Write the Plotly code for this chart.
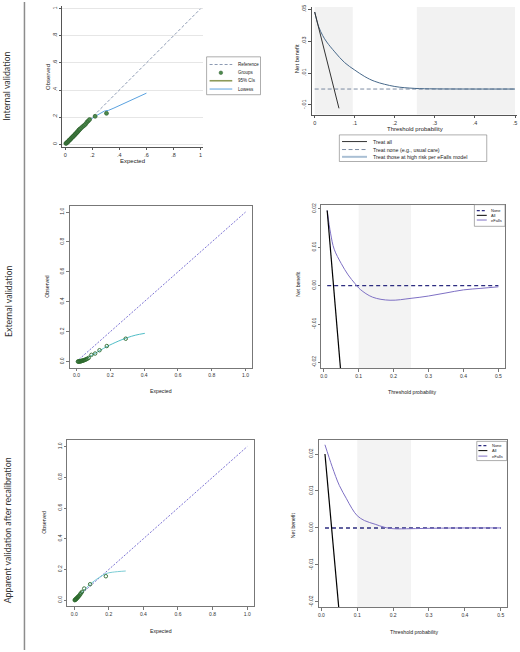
import plotly.graph_objects as go

W, H = 520, 652
def X(p): return p / W
def Y(p): return 1 - p / H

# ---------------- DATA ----------------
# Row 1: internal validation (Stata)
int_exp = [0.005,0.01,0.015,0.02,0.025,0.03,0.035,0.04,0.045,0.05,0.055,0.06,0.065,0.07,0.075,
           0.08,0.085,0.09,0.095,0.10,0.105,0.11,0.12,0.13,0.14,0.15,0.16,0.17,0.18,0.221,0.305]
int_obs = [0.006,0.009,0.014,0.018,0.024,0.029,0.034,0.038,0.044,0.049,0.055,0.058,0.064,0.069,0.075,
           0.079,0.086,0.09,0.096,0.103,0.108,0.113,0.122,0.131,0.139,0.148,0.162,0.172,0.182,0.206,0.228]
int_lowess_x = [0.005,0.05,0.1,0.15,0.2,0.221,0.29,0.32,0.36,0.6]
int_lowess_y = [0.006,0.05,0.1,0.148,0.19,0.206,0.245,0.25,0.267,0.377]
ref_line = [0, 1]

int_thr = [0,0.01,0.02,0.03,0.05,0.075,0.1,0.125,0.15,0.2,0.25,0.3,0.4,0.5]
int_nb_model = [0.0483,0.039,0.0335,0.0295,0.0233,0.0165,0.0119,0.0078,0.0048,0.0016,0.0004,0.0001,0.0,0.0]
int_all_x = [0, 0.0606]
int_all_y = [0.0483, -0.0121]
int_none_x = [0, 0.5]
int_none_y = [0, 0]
int_shade = [(0.0, 0.095), (0.255, 0.5)]

# Row 2: external validation (R)
ext_exp = [0.008,0.011,0.014,0.017,0.02,0.023,0.026,0.029,0.032,0.035,0.039,0.043,0.048,0.053,
           0.058,0.064,0.072,0.088,0.11,0.136,0.179,0.291]
ext_obs = [0.0,0.001,0.0,0.002,0.001,0.003,0.002,0.004,0.005,0.006,0.007,0.009,0.011,0.013,
           0.016,0.019,0.025,0.045,0.054,0.076,0.104,0.153]
ext_lowess_x = [0.01,0.03,0.05,0.08,0.1,0.14,0.18,0.25,0.3,0.35,0.404]
ext_lowess_y = [0.0,0.006,0.016,0.035,0.048,0.075,0.101,0.138,0.16,0.177,0.189]

ext_thr = [0.01,0.02,0.03,0.05,0.07,0.09,0.105,0.14,0.19,0.25,0.3,0.35,0.4,0.45,0.5]
ext_nb_model = [0.0196,0.0135,0.0095,0.0058,0.0028,0.0005,-0.001,-0.003,-0.0038,-0.0033,-0.0027,
                -0.0019,-0.0011,-0.0007,-0.0003]
ext_all_x = [0.01, 0.06]
ext_all_y = [0.0196, -0.0345]
ext_none_x = [0.01, 0.5]
ext_none_y = [0, 0]
ext_shade = [(0.1, 0.25)]

# Row 3: apparent validation after recalibration (R)
rec_exp = [0.003,0.005,0.007,0.009,0.011,0.013,0.015,0.018,0.02,0.023,0.026,0.03,0.035,0.038,
           0.045,0.058,0.092,0.183]
rec_obs = [0.0,0.002,0.004,0.006,0.008,0.01,0.013,0.016,0.019,0.022,0.026,0.031,0.038,0.045,
           0.054,0.076,0.104,0.156]
rec_lowess_x = [0.0,0.02,0.05,0.096,0.15,0.183,0.22,0.298]
rec_lowess_y = [0.0,0.021,0.058,0.108,0.152,0.173,0.182,0.19]

rec_thr = [0.01,0.03,0.05,0.07,0.085,0.1,0.12,0.15,0.175,0.2,0.25,0.3,0.4,0.5]
rec_nb_model = [0.0225,0.0166,0.0115,0.0079,0.0053,0.0033,0.002,0.001,0.0002,-0.0002,-0.0002,
                -0.0001,0.0,0.0]
rec_all_x = [0.01, 0.06]
rec_all_y = [0.0200, -0.0340]
rec_none_x = [0.01, 0.5]
rec_none_y = [0, 0]
rec_shade = [(0.1, 0.25)]

row_labels = ["Internal validation", "External validation", "Apparent validation after recalibration"]

# ---------------- STYLE ----------------
FONT = "Liberation Sans"
REF_C = "#6f80a0"
GRP_C = "#4c8a4c"
CI_C = "#8c9a5a"
LOW_C = "#5aa2e0"
S_ALL = "#333333"
S_NONE = "#5c6f8c"
S_MODEL = "#48698a"
S_MODEL_KEY = "#a9bfd4"
R_DIAG = "#5a4fc8"
R_PT = "#2e6b2e"
R_LOW = "#3cb6bf"
R_LOW2 = "#6cc6cf"
R_NONE = "#2c2c80"
R_MODEL = "#7e70c4"
D_STATA = "3px,2px"
D_RDOT = "2px,1.5px"
D_RNONE = "4px,3px"

fig = go.Figure()

def add(tr, n):
    tr.update(xaxis="x" if n == 1 else f"x{n}", yaxis="y" if n == 1 else f"y{n}", showlegend=False,
              hoverinfo="skip")
    fig.add_trace(tr)

# Panel 1
add(go.Scatter(x=ref_line, y=ref_line, mode="lines", line=dict(color=REF_C, width=0.8, dash=D_STATA)), 1)
add(go.Scatter(x=int_lowess_x, y=int_lowess_y, mode="lines", line=dict(color=LOW_C, width=1)), 1)
add(go.Scatter(x=int_exp, y=int_obs, mode="markers",
               marker=dict(color=GRP_C, size=4, line=dict(color="#2a5a2a", width=0.6))), 1)
# Panel 2
add(go.Scatter(x=int_none_x, y=int_none_y, mode="lines", line=dict(color=S_NONE, width=0.8, dash="4px,2.5px")), 2)
add(go.Scatter(x=int_thr, y=int_nb_model, mode="lines", line=dict(color=S_MODEL, width=1, shape="spline")), 2)
add(go.Scatter(x=int_all_x, y=int_all_y, mode="lines", line=dict(color=S_ALL, width=1)), 2)
# Panel 3
add(go.Scatter(x=ref_line, y=ref_line, mode="lines", line=dict(color=R_DIAG, width=0.8, dash=D_RDOT)), 3)
add(go.Scatter(x=ext_lowess_x, y=ext_lowess_y, mode="lines", line=dict(color=R_LOW, width=0.9, shape="spline")), 3)
add(go.Scatter(x=ext_exp, y=ext_obs, mode="markers",
               marker=dict(symbol="circle-open", color=R_PT, size=3.5, line=dict(width=0.9))), 3)
# Panel 4
add(go.Scatter(x=ext_none_x, y=ext_none_y, mode="lines", line=dict(color=R_NONE, width=1.4, dash=D_RNONE)), 4)
add(go.Scatter(x=ext_thr, y=ext_nb_model, mode="lines", line=dict(color=R_MODEL, width=1, shape="spline")), 4)
add(go.Scatter(x=ext_all_x, y=ext_all_y, mode="lines", line=dict(color="black", width=1.2)), 4)
# Panel 5
add(go.Scatter(x=ref_line, y=ref_line, mode="lines", line=dict(color=R_DIAG, width=0.8, dash=D_RDOT)), 5)
add(go.Scatter(x=rec_lowess_x, y=rec_lowess_y, mode="lines", line=dict(color=R_LOW2, width=0.9, shape="spline")), 5)
add(go.Scatter(x=rec_exp, y=rec_obs, mode="markers",
               marker=dict(symbol="circle-open", color=R_PT, size=3.5, line=dict(width=0.9))), 5)
# Panel 6
add(go.Scatter(x=rec_none_x, y=rec_none_y, mode="lines", line=dict(color=R_NONE, width=1.4, dash=D_RNONE)), 6)
add(go.Scatter(x=rec_thr, y=rec_nb_model, mode="lines", line=dict(color=R_MODEL, width=1, shape="spline")), 6)
add(go.Scatter(x=rec_all_x, y=rec_all_y, mode="lines", line=dict(color="black", width=1.2)), 6)

# ---------------- AXES ----------------
def axis(dom, rng, tv, tt, anchor, stata=True, grid=False, yax=False):
    d = dict(domain=dom, range=rng, tickvals=tv, ticktext=tt, anchor=anchor,
             showline=True, linewidth=0.7, zeroline=False,
             ticks="outside", ticklen=2.5, tickwidth=0.6,
             tickfont=dict(family=FONT, size=5.5 if stata else 5, color="#333"),
             showgrid=grid, gridcolor="#e6e6e6", gridwidth=0.5, fixedrange=True)
    if stata:
        d.update(linecolor="#555", tickcolor="#555", mirror=False)
    else:
        d.update(linecolor="#777", tickcolor="#777", mirror=True)
    if yax:
        d.update(tickangle=-90)
    return d

st01 = [0, .2, .4, .6, .8, 1]
st01t = ["0", ".2", ".4", ".6", ".8", "1"]
r01 = [0, .2, .4, .6, .8, 1]
r01t = ["0.0", "0.2", "0.4", "0.6", "0.8", "1.0"]
r05 = [0, .1, .2, .3, .4, .5]
r05t = ["0.0", "0.1", "0.2", "0.3", "0.4", "0.5"]
rnb = [-0.02, -0.01, 0, 0.01, 0.02]
rnbt = ["-0.02", "-0.01", "0.00", "0.01", "0.02"]

layout_axes = dict(
    xaxis=axis([X(61.6), X(202.7)], [-0.02, 1.02], st01, st01t, "y"),
    yaxis=axis([Y(145.4), Y(4.0)], [-0.02, 1.02], st01, st01t, "x", grid=True, yax=True),
    xaxis2=axis([X(311.1), X(517)], [-0.008, 0.505], r05, ["0", ".1", ".2", ".3", ".4", ".5"], "y2"),
    yaxis2=axis([Y(112.9), Y(4.9)], [-0.016, 0.0515], [-0.01, 0.01, 0.03, 0.05],
                ["-.01", ".01", ".03", ".05"], "x2", yax=True),
    xaxis3=axis([X(68.9), X(251.8)], [-0.04, 1.04], r01, r01t, "y3", stata=False),
    yaxis3=axis([Y(366.7), Y(204.7)], [-0.04, 1.04], r01, r01t, "x3", stata=False, yax=True),
    xaxis4=axis([X(321), X(505)], [-0.0066, 0.519], r05, r05t, "y4", stata=False),
    yaxis4=axis([Y(367.3), Y(203.3)], [-0.0215, 0.0211], rnb, rnbt, "x4", stata=False, yax=True),
    xaxis5=axis([X(66.4), X(253.6)], [-0.04, 1.04], r01, r01t, "y5", stata=False),
    yaxis5=axis([Y(606.2), Y(439.8)], [-0.04, 1.04], r01, r01t, "x5", stata=False, yax=True),
    xaxis6=axis([X(318.3), X(506.7)], [-0.0075, 0.5167], r05, r05t, "y6", stata=False),
    yaxis6=axis([Y(607.3), Y(439.3)], [-0.0215, 0.0238], rnb, rnbt, "x6", stata=False, yax=True),
)

shapes = []
# shaded threshold regions
for (a, b) in int_shade:
    shapes.append(dict(type="rect", xref="x2", yref="y2 domain", x0=a, x1=b, y0=0, y1=1,
                       fillcolor="#f2f2f2", line=dict(width=0), layer="below"))
for (a, b) in ext_shade:
    shapes.append(dict(type="rect", xref="x4", yref="y4 domain", x0=a, x1=b, y0=0, y1=1,
                       fillcolor="#f3f3f3", line=dict(width=0), layer="below"))
for (a, b) in rec_shade:
    shapes.append(dict(type="rect", xref="x6", yref="y6 domain", x0=a, x1=b, y0=0, y1=1,
                       fillcolor="#f3f3f3", line=dict(width=0), layer="below"))

# separator line
shapes.append(dict(type="line", xref="paper", yref="paper", x0=X(23.5), x1=X(23.5), y0=Y(0), y1=Y(650),
                   line=dict(color="#8c8c8c", width=1.5)))

annotations = []
def txt(s, x, y, size, angle=0, xanchor="center", color="#222", family=FONT):
    annotations.append(dict(text=s, x=X(x), y=Y(y), xref="paper", yref="paper", showarrow=False,
                            textangle=angle, xanchor=xanchor, yanchor="middle",
                            font=dict(family=family, size=size, color=color)))

def legend_box(x0, y0, x1, y1):
    shapes.append(dict(type="rect", xref="paper", yref="paper", x0=X(x0), x1=X(x1), y0=Y(y1), y1=Y(y0),
                       fillcolor="white", line=dict(color="#777", width=0.6)))

def key_line(x0, x1, y, color, width, dash="solid"):
    shapes.append(dict(type="line", xref="paper", yref="paper", x0=X(x0), x1=X(x1), y0=Y(y), y1=Y(y),
                       line=dict(color=color, width=width, dash=dash)))

# legend panel 1
legend_box(206, 55, 260, 93)
key_line(209, 231.7, 62.7, REF_C, 0.8, D_STATA)
shapes.append(dict(type="circle", xref="paper", yref="paper", x0=X(218.5), x1=X(222.1), y0=Y(72.8), y1=Y(69.2),
                   fillcolor=GRP_C, line=dict(color="#2a5a2a", width=0.5)))
key_line(209, 231.7, 79, CI_C, 1.6)
key_line(209, 231.7, 87.3, LOW_C, 1)
for s, yy in [("Reference", 62.7), ("Groups", 71), ("95% CIs", 79), ("Lowess", 87.3)]:
    txt(s, 235.5, yy, 4.5, xanchor="left")

# legend panel 2
legend_box(339, 133.3, 486.7, 160)
key_line(341.7, 366.7, 140, S_ALL, 1)
key_line(341.7, 366.7, 148, S_NONE, 0.8, "4px,2.5px")
key_line(341.7, 366.7, 155.3, S_MODEL_KEY, 2)
for s, yy in [("Treat all", 140), ("Treat none (e.g., usual care)", 148),
              ("Treat those at high risk per eFalls model", 155.3)]:
    txt(s, 370.5, yy, 5.3, xanchor="left")

# legend panel 4
legend_box(474.3, 203.3, 505, 225)
key_line(476.7, 486.7, 209.3, R_NONE, 1.2, "3px,2px")
key_line(476.7, 486.7, 214, "black", 1)
key_line(476.7, 486.7, 218.7, R_MODEL, 1)
for s, yy in [("None", 209.3), ("All", 214), ("eFalls", 218.7)]:
    txt(s, 489, yy, 4, xanchor="left")

# legend panel 6
legend_box(476.7, 440.7, 506.7, 460)
key_line(478.3, 487.3, 445, R_NONE, 1.2, "3px,2px")
key_line(478.3, 487.3, 450, "black", 1)
key_line(478.3, 487.3, 455.5, R_MODEL, 1)
for s, yy in [("None", 445), ("All", 450), ("eFalls", 455.5)]:
    txt(s, 490, yy, 4, xanchor="left")

# axis titles
txt("Observed", 47.3, 75, 6, angle=-90)
txt("Expected", 132, 159.5, 6)
txt("Net benefit", 296, 57, 6, angle=-90)
txt("Threshold probability", 415, 127, 6)
txt("Observed", 46.7, 285, 5.2, angle=-90)
txt("Expected", 160, 390, 5.2)
txt("Net benefit", 297.3, 283, 5.2, angle=-90)
txt("Threshold probability", 412.7, 391.7, 5.2)
txt("Observed", 42.7, 521.7, 5.2, angle=-90)
txt("Expected", 160, 630.7, 5.2)
txt("Net benefit", 293.3, 525, 5.2, angle=-90)
txt("Threshold probability", 414, 631.7, 5.2)

# row labels
txt(row_labels[0], 6, 84, 8.8, angle=-90, family="Lato", color="#333")
txt(row_labels[1], 7, 300, 8.8, angle=-90, family="Lato", color="#333")
txt(row_labels[2], 6, 530, 8.8, angle=-90, family="Lato", color="#333")

fig.update_layout(width=W, height=H, margin=dict(l=0, r=0, t=0, b=0),
                  paper_bgcolor="white", plot_bgcolor="white", showlegend=False,
                  shapes=shapes, annotations=annotations, **layout_axes)

fig.write_html("out.html", config={"displayModeBar": False},
               post_script="document.body.style.margin='0px';")
